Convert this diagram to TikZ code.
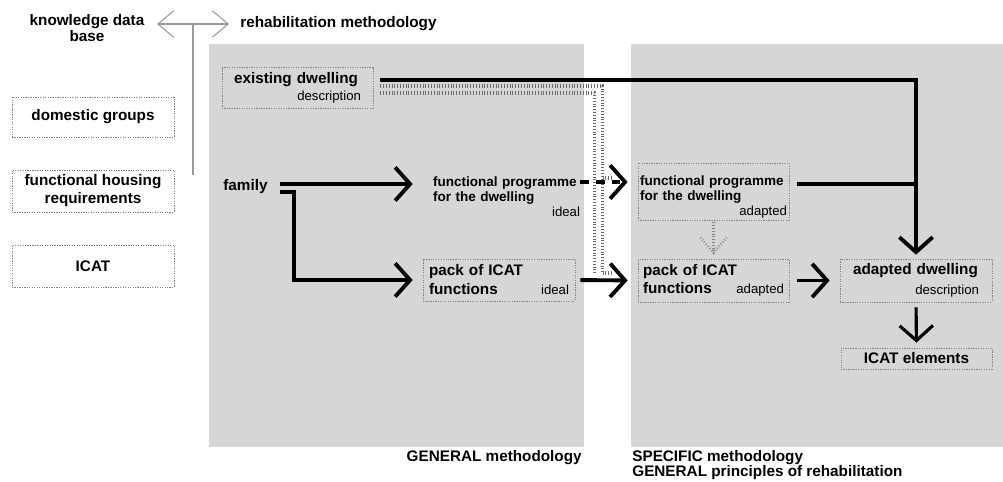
\documentclass[tikz,border=0pt]{standalone}
\usepackage{fontspec}
\setmainfont{Liberation Sans}
\usetikzlibrary{positioning,arrows.meta}
\definecolor{panelgray}{RGB}{214,214,214}
\definecolor{boxline}{RGB}{130,130,130}
\definecolor{hatchgray}{RGB}{110,110,110}
\newcommand\subtxt[1]{{\fontsize{7.5}{8.5}\selectfont\mdseries #1}}
\tikzset{
  lbl/.style={font=\fontsize{8.7}{9.6}\selectfont\bfseries, inner sep=0pt},
  fptxt/.style={font=\fontsize{7.7}{8.5}\selectfont\bfseries, inner ysep=0pt},
  dotbox/.style={draw=boxline, dash pattern=on 0.7pt off 0.7pt, line width=0.4pt},
  flow/.style={line width=2.2pt, -{Straight Barb[length=8.5pt,width=19pt]}, shorten >=0.2cm},
  flowline/.style={line width=2.2pt},
  hdr/.style={draw=black!40, line width=0.6pt},
  hatch/.style={draw=hatchgray, line width=1.9pt, dash pattern=on 0.4pt off 1.2pt},
}
\begin{document}
\begin{tikzpicture}[x=0.02cm, y=-0.02cm]
		\useasboundingbox (0,0) rectangle (1003,481);
		% panels
		\fill[panelgray] (209,44) rectangle (584,447);
		\fill[panelgray] (631,44) rectangle (1003,447);
		
		% header
		\node[lbl, align=center] (kdb) at (87,28) {knowledge data\\base};
		\node[lbl, anchor=west] (rehab) at (240,24) {rehabilitation methodology};
		\coordinate (hdrL) at (157,24);
		\coordinate (hdrR) at (229,24);
		\coordinate (hdrM) at (193,24);
		\draw[hdr, {Straight Barb[length=9pt,width=15pt]}-{Straight Barb[length=9pt,width=15pt]}] (hdrL) -- (hdrR);
		\draw[hdr] (hdrM) -- ++(0,151);
		
		% knowledge data base
		\node[lbl, dotbox, minimum width=3.24cm, minimum height=0.8cm, align=center] (dom) at (93,117) {domestic groups};
		\node[lbl, dotbox, minimum width=3.24cm, minimum height=0.84cm, align=center] (fhr) at (93,191) {functional housing\\[0.6pt]requirements};
		\node[lbl, dotbox, minimum width=3.24cm, minimum height=0.84cm, align=center] (icat) at (93,266) {ICAT};
		
		% general methodology
		\node[lbl, dotbox, text width=2.54cm, inner xsep=0.24cm, minimum height=0.82cm, align=left] (exist) at (297.5,87.5) {existing dwelling\\\hspace*{\fill}\subtxt{description}};
		\node[lbl, anchor=west] (family) at (223,187) {family};
		\node[fptxt, text width=2.94cm, inner xsep=0.2cm, align=left] (fpI) at (506.5,197) {functional programme\\for the dwelling\\\hspace*{\fill}\subtxt{ideal}\hspace*{0.12cm}};
		\node[lbl, dotbox, text width=2.8cm, inner xsep=0.12cm, minimum height=0.84cm, align=left] (packI) at (499,280) {pack of ICAT\\[1.2pt]functions\hfill\subtxt{ideal}};
		
		% specific methodology
		\node[fptxt, dotbox, text width=2.94cm, inner xsep=0.04cm, minimum height=1.14cm, align=left] (fpA) at (713.5,191.5) {\rule{0pt}{12pt}functional programme\\for the dwelling\\\hspace*{\fill}\subtxt{adapted}};
		\node[lbl, dotbox, text width=2.82cm, inner xsep=0.1cm, minimum height=0.86cm, align=left] (packA) at (713.5,280.5) {pack of ICAT\\[0.6pt]functions\hfill\subtxt{adapted}};
		\node[lbl, dotbox, text width=2.52cm, inner xsep=0.26cm, minimum height=0.86cm, align=left] (dwA) at (916,280.5) {adapted dwelling\\[1.7pt]\hspace*{\fill}\subtxt{description}};
		\node[lbl, dotbox, minimum width=3.02cm, minimum height=0.42cm, align=center] (icatE) at (916.5,358.5) {ICAT elements};
		
		% captions
		\node[lbl, anchor=east] (gen) at (582,458) {GENERAL methodology};
		\node[lbl, anchor=west, align=left, font=\fontsize{8.7}{8.5}\selectfont\bfseries] (spec) at (632,465.5) {SPECIFIC methodology\\GENERAL principles of rehabilitation};
		
		% hatched link
		\coordinate (hA) at ([shift={(7,-1.5)}]exist.east);
		\coordinate (hB) at ([shift={(7,5.5)}]exist.east);
		\draw[hatch] (hA) -| ([shift={(-35,-7.5)}]packA.west);
		\draw[hatch] (hB) -| ([shift={(-43,-7.5)}]packA.west);
		\draw[hatch] ([shift={(-35,-7.5)}]packA.west) -- ++(10,0);
		\draw[hatch] ([shift={(-35,-13.5)}]fpA.west) -- ++(10,0);
		\draw[hatch, line width=1.5pt, draw=black!50] ([shift={(0,2)}]fpA.south) -- ([shift={(0,-6)}]packA.north);
		\draw[hatch, line width=1.5pt, draw=black!50] ([shift={(-13,-21)}]packA.north) -- ([shift={(0,-6)}]packA.north) -- ([shift={(13,-21)}]packA.north);
		
		% flows
		\coordinate (famA) at ([shift={(12,-3)}]family.east);
		\coordinate (famB) at ([shift={(12,5)}]family.east);
		\draw[flow] (famA) -- (famA -| fpI.west);
		\draw[flow] (famB) -- ++(14,0) |- (packI.west);
		\coordinate (fpIout) at (580,182);
		\draw[flow, dash pattern=on 5pt off 4pt] (fpIout) -- (fpIout -| fpA.west);
		\draw[flow, shorten <=0.1cm] (packI.east) -- (packA.west);
		\draw[flow, shorten <=0.16cm] (packA.east) -- (dwA.west);
		\coordinate (fpAout) at ([shift={(8,-7.5)}]fpA.east);
		\draw[flowline] (fpAout) -- (fpAout -| dwA.north);
		\draw[flow, shorten >=0.08cm] ([shift={(7,-7.5)}]exist.east) -| (dwA.north);
		\draw[flow, line width=1.8pt, shorten <=0.1cm, shorten >=0.1cm] (dwA.south) -- (icatE.north);
	\end{tikzpicture}
\end{document}
